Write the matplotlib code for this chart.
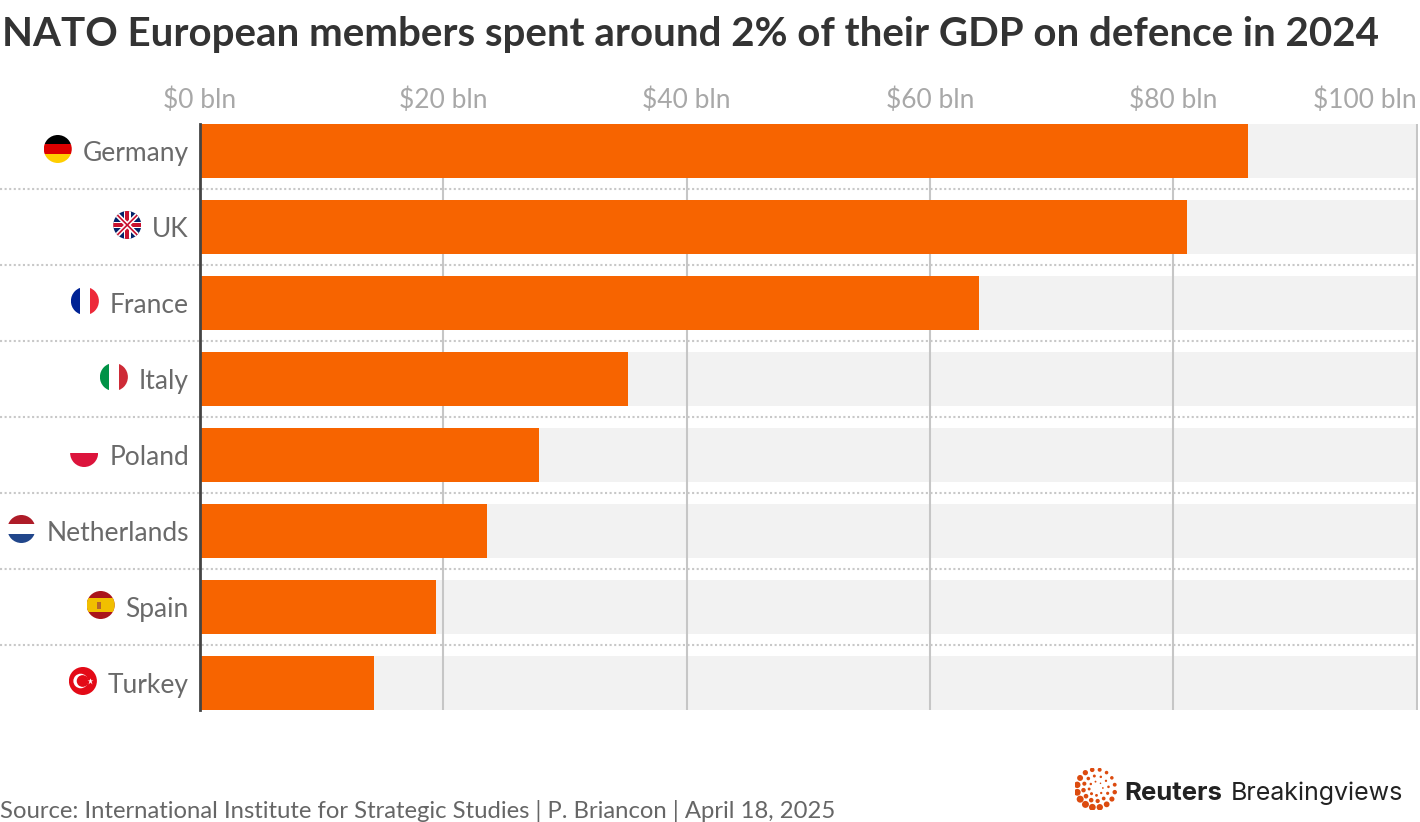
import numpy as np
import matplotlib
matplotlib.use('Agg')
import matplotlib.pyplot as plt
from matplotlib.patches import Circle, Rectangle

countries = ['Germany', 'UK', 'France', 'Italy', 'Poland', 'Netherlands', 'Spain', 'Turkey']
spend = [86.1, 81.1, 64.0, 35.2, 27.9, 23.6, 19.4, 14.3]  # $ bln, 2024
ticks = [0, 20, 40, 60, 80, 100]
tick_labels = ['$0 bln', '$20 bln', '$40 bln', '$60 bln', '$80 bln', '$100 bln']

title = 'NATO European members spent around 2% of their GDP on defence in 2024'
source = 'Source: International Institute for Strategic Studies | P. Briancon | April 18, 2025'

plt.rcParams['font.family'] = ['Lato', 'DejaVu Sans']

W, H = 1420, 822
fig = plt.figure(figsize=(W / 100, H / 100), dpi=100)
ax = fig.add_axes([200 / W, 1 - 710 / H, 1218 / W, 586 / H])

y = np.arange(len(countries))
h = 54 / 76
ax.barh(y, [100] * len(y), height=h, color='#f2f2f2', zorder=0)
ax.barh(y, spend, height=h, color='#f76400', zorder=3)
ax.vlines(ticks[1:], -h / 2, len(y) - 1 + h / 2, color='#c6c6c6', lw=1.5, zorder=2)
ax.set_xlim(0, 100.1)
ax.set_ylim(len(y) - 1 + h / 2, -h / 2)

# dotted separators between rows
for i in range(len(y) - 1):
    ax.plot([-16.45, 100], [i + 0.5, i + 0.5], color='#c8c8c8', lw=1.5,
            ls=(0, (1, 1.2)), dash_capstyle='butt', clip_on=False, zorder=1)

for s in ['top', 'right', 'bottom']:
    ax.spines[s].set_visible(False)
ax.spines['left'].set_color('#444444')
ax.spines['left'].set_linewidth(2)
ax.spines['left'].set_zorder(5)

ax.xaxis.tick_top()
ax.set_xticks(ticks, tick_labels)
ax.tick_params(axis='x', length=0, pad=8, labelsize=19, labelcolor='#a8a8a8')
ax.get_xticklabels()[-1].set_horizontalalignment('right')
ax.set_yticks(y, countries)
ax.tick_params(axis='y', length=0, pad=8, labelsize=19, labelcolor='#6a6a6a')

fig.text(2 / W, 1 - 46 / H, title, fontsize=29, fontweight='bold', color='#333333',
         ha='left', va='baseline')
fig.text(0, 4 / H, source, fontsize=17.2, color='#666666',
         ha='left', va='baseline')

# --- flags -----------------------------------------------------------
fig.canvas.draw()
renderer = fig.canvas.get_renderer()
d = 28


def flag_axes(cx, cy):
    fa = fig.add_axes([(cx - d / 2) / W, (cy - d / 2) / H, d / W, d / H])
    fa.set_xlim(0, 1)
    fa.set_ylim(0, 1)
    fa.axis('off')
    circ = Circle((0.5, 0.5), 0.5, facecolor='none', edgecolor='none',
                  transform=fa.transData)
    fa.add_patch(circ)
    return fa, circ


def rect(fa, circ, x0, y0, w, hh, c):
    r = Rectangle((x0, y0), w, hh, facecolor=c, edgecolor='none')
    fa.add_patch(r)
    r.set_clip_path(circ)


def line(fa, circ, xs, ys, c, lw):
    ln, = fa.plot(xs, ys, color=c, lw=lw, solid_capstyle='butt')
    ln.set_clip_path(circ)


def draw_flag(name, fa, circ):
    if name == 'Germany':
        rect(fa, circ, 0, 2 / 3, 1, 1 / 3, '#000000')
        rect(fa, circ, 0, 1 / 3, 1, 1 / 3, '#dd0000')
        rect(fa, circ, 0, 0, 1, 1 / 3, '#ffce00')
    elif name == 'UK':
        rect(fa, circ, 0, 0, 1, 1, '#012169')
        line(fa, circ, [0, 1], [0, 1], 'white', 3.5)
        line(fa, circ, [0, 1], [1, 0], 'white', 3.5)
        line(fa, circ, [0, 1], [0, 1], '#c8102e', 1.2)
        line(fa, circ, [0, 1], [1, 0], '#c8102e', 1.2)
        rect(fa, circ, 0.38, 0, 0.24, 1, 'white')
        rect(fa, circ, 0, 0.38, 1, 0.24, 'white')
        rect(fa, circ, 0.43, 0, 0.14, 1, '#c8102e')
        rect(fa, circ, 0, 0.43, 1, 0.14, '#c8102e')
    elif name == 'France':
        rect(fa, circ, 0, 0, 1 / 3, 1, '#002395')
        rect(fa, circ, 2 / 3, 0, 1 / 3, 1, '#ed2939')
    elif name == 'Italy':
        rect(fa, circ, 0, 0, 1 / 3, 1, '#009246')
        rect(fa, circ, 2 / 3, 0, 1 / 3, 1, '#ce2b37')
    elif name == 'Poland':
        rect(fa, circ, 0, 0, 1, 0.5, '#dc143c')
    elif name == 'Netherlands':
        rect(fa, circ, 0, 2 / 3, 1, 1 / 3, '#ae1c28')
        rect(fa, circ, 0, 0, 1, 1 / 3, '#21468b')
    elif name == 'Spain':
        rect(fa, circ, 0, 0, 1, 1, '#aa151b')
        rect(fa, circ, 0, 0.25, 1, 0.5, '#f1bf00')
        rect(fa, circ, 0.36, 0.36, 0.16, 0.26, '#b5652a')
    elif name == 'Turkey':
        rect(fa, circ, 0, 0, 1, 1, '#e30a17')
        fa.add_patch(Circle((0.42, 0.5), 0.26, facecolor='white', edgecolor='none'))
        fa.add_patch(Circle((0.49, 0.5), 0.21, facecolor='#e30a17', edgecolor='none'))
        fa.plot([0.74], [0.5], marker='*', color='white', ms=5, mec='none')


for i, lab in enumerate(ax.get_yticklabels()):
    bb = lab.get_window_extent(renderer)
    cy = ax.transData.transform((0, i))[1]
    fa, circ = flag_axes(bb.x0 - 11 - d / 2, cy + 2)
    draw_flag(countries[i], fa, circ)

# --- logo ------------------------------------------------------------
la = fig.add_axes([(1096 - 21) / W, (H - 788.5 - 21) / H, 42 / W, 42 / H])
la.set_xlim(-1.1, 1.1)
la.set_ylim(-1.1, 1.1)
la.axis('off')
for r, n, base in [(1.0, 16, 16), (0.66, 12, 7), (0.36, 8, 3)]:
    th = np.linspace(0, 2 * np.pi, n, endpoint=False) + 0.2 * r
    sz = base * (1 + 0.6 * np.cos(th + 2.4))
    la.scatter(r * np.cos(th), r * np.sin(th), s=sz, color='#dc4b0f', lw=0)

fig.text(1124 / W, (H - 800) / H, 'Reuters', fontsize=18.5, fontweight='bold',
         color='#222222', family=['Inter', 'DejaVu Sans'], ha='left', va='baseline')
fig.text(1231 / W, (H - 800) / H, 'Breakingviews', fontsize=18,
         color='#222222', family=['Inter', 'DejaVu Sans'], ha='left', va='baseline')

fig.savefig('out.png', dpi=100)
